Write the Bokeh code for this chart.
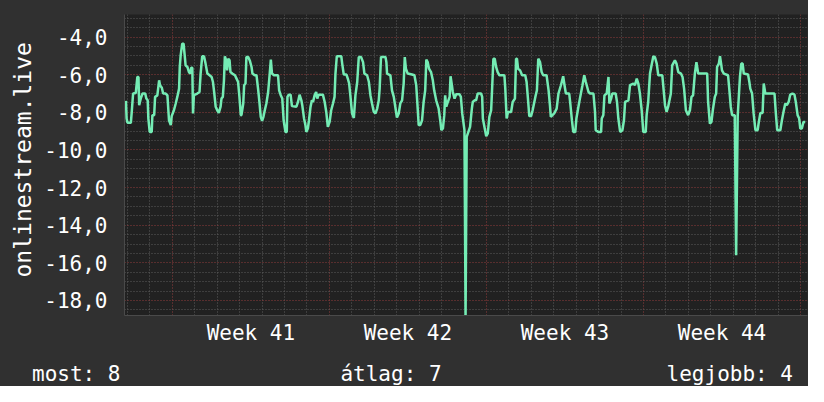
from bokeh.plotting import figure
from bokeh.models import Range1d, FixedTicker, Div, Title
from bokeh.layouts import column
from bokeh.embed import file_html
from bokeh.resources import INLINE

# ---- data (x in days from start of Week 41, y = value) ----
t_a = [-2.07, -2.04, -2.00, -1.85, -1.81, -1.75, -1.63, -1.56, -1.51, -1.48, -1.41, -1.33, -1.21, -1.16, -1.10, -1.07,
       -1.01, -0.92, -0.89, -0.81, -0.77, -0.67, -0.59, -0.55, -0.47, -0.41, -0.30, -0.22, -0.15, -0.07, -0.03, 0.07,
       0.15, 0.22, 0.30, 0.33, 0.37, 0.44, 0.50, 0.55, 0.59, 0.67, 0.74, 0.80, 0.84, 0.89, 0.92, 0.96, 1.11, 1.21, 1.26,
       1.33, 1.41, 1.48, 1.56, 1.66, 1.75, 1.81, 1.87, 1.93, 2.00, 2.07, 2.15, 2.19, 2.25, 2.30, 2.34, 2.40, 2.44, 2.49,
       2.55, 2.59, 2.67, 2.79, 2.86, 2.93, 2.99, 3.05, 3.08]
v_a = [-7.39, -8.33, -8.56, -8.56, -7.98, -7.0, -6.97, -6.12, -6.12, -7.62, -7.27, -7.0, -7.0, -7.27, -7.36, -8.33,
       -9.04, -9.04, -8.15, -8.15, -7.18, -7.1, -6.3, -6.56, -6.69, -7.0, -7.0, -7.1, -8.42, -8.68, -8.2, -7.89,
       -7.53, -7.18, -6.74, -5.59, -4.97, -4.35, -4.35, -4.97, -5.5, -5.59, -5.86, -5.94, -5.63, -5.63, -8.06, -7.09,
       -7.0, -6.92, -5.94, -5.02, -5.02, -5.41, -5.94, -6.03, -6.12, -6.39, -7.0, -7.7, -7.89, -8.03, -7.7, -7.27,
       -7.18, -6.3, -5.02, -5.24, -5.77, -5.15, -5.24, -5.86, -5.94, -6.03, -6.21, -6.39, -7.18, -8.15, -8.15]

t_b = [3.16, 3.20, 3.26, 3.30, 3.38, 3.45, 3.53, 3.57, 3.67, 3.75, 3.82, 3.88, 3.94, 4.00, 4.06, 4.12, 4.19, 4.27,
       4.34, 4.39, 4.44, 4.53, 4.71, 4.76, 4.83, 4.90, 4.96, 5.04, 5.10, 5.13, 5.19, 5.27, 5.33, 5.53, 5.60, 5.67,
       5.75, 5.79, 5.87, 5.93, 5.97, 6.04, 6.09, 6.16, 6.22, 6.27, 6.34, 6.41, 6.46, 6.52, 6.71, 6.79, 6.86, 6.93,
       7.01, 7.08, 7.16, 7.23, 7.27, 7.33, 7.53, 7.57, 7.64, 7.76, 7.82, 7.88, 7.94, 8.01, 8.09]
v_b = [-7.53, -6.56, -6.47, -5.06, -5.06, -5.24, -5.59, -5.94, -6.03, -6.03, -6.74, -7.45, -8.24, -8.45, -8.24, -7.89,
       -7.53, -6.92, -5.94, -5.2, -5.94, -6.03, -6.03, -6.83, -7.09, -7.27, -8.42, -9.04, -9.04, -7.18, -7.06, -7.06,
       -7.67, -7.7, -7.45, -7.06, -7.36, -7.62, -8.33, -8.68, -9.04, -8.86, -8.42, -7.7, -7.36, -7.45, -7.1, -6.92,
       -7.27, -7.06, -7.06, -7.45, -7.98, -8.77, -8.51, -7.89, -7.53, -7.18, -5.94, -5.02, -5.02, -5.41, -5.99, -5.99,
       -6.21, -6.47, -7.18, -8.06, -8.3]

t_c = [8.16, 8.24, 8.31, 8.41, 8.50, 8.56, 8.68, 8.76, 8.83, 8.90, 8.98, 9.05, 9.13, 9.20, 9.24, 9.30, 9.50, 9.54,
       9.57, 9.72, 9.79, 9.87, 9.96, 10.01, 10.09, 10.16, 10.24, 10.31, 10.36, 10.41, 10.49, 10.68, 10.79, 10.87,
       10.93, 10.98, 11.05, 11.13, 11.20, 11.27, 11.32, 11.38, 11.44, 11.53, 11.61, 11.67, 11.76, 11.87, 11.94,
       11.99, 12.06, 12.12, 12.16, 12.21, 12.28, 12.36, 12.40, 12.46, 12.50, 12.58, 12.65, 12.80, 12.86, 12.92,
       13.02, 13.07, 13.12, 13.27, 13.35]
v_c = [-7.1, -6.39, -5.06, -5.06, -5.33, -5.94, -6.03, -6.39, -7.1, -7.53, -7.98, -8.06, -7.8, -7.36, -6.74, -5.06,
       -5.06, -5.33, -5.94, -6.03, -6.83, -7.18, -7.89, -8.28, -8.06, -7.53, -7.36, -6.47, -5.06, -5.68, -5.94, -5.99,
       -6.03, -6.56, -7.7, -8.68, -8.68, -8.42, -7.45, -6.83, -5.2, -5.33, -5.68, -5.86, -6.3, -6.83, -7.36, -7.8,
       -8.42, -8.95, -8.86, -8.15, -7.1, -7.7, -7.45, -7.18, -6.08, -6.56, -6.92, -7.27, -7.04, -7.04, -7.18, -8.06,
       -8.95, -18.8, -9.3, -8.77, -7.8]

t_d = [13.39, 13.47, 13.54, 13.61, 13.76, 13.81, 13.84, 13.91, 13.99, 14.06, 14.13, 14.21, 14.25, 14.31, 14.37,
       14.43, 14.50, 14.58, 14.80, 14.84, 14.90, 14.96, 15.10, 15.17, 15.27, 15.32, 15.36, 15.41, 15.50, 15.59,
       15.73, 15.79, 15.85, 15.91, 15.99, 16.06, 16.18, 16.25, 16.31, 16.39, 16.46, 16.53, 16.68, 16.77, 16.83,
       16.87, 17.02, 17.13, 17.21, 17.32, 17.42, 17.48, 17.54, 17.69, 17.73, 17.81, 17.87, 17.96, 18.01, 18.10,
       18.18, 18.28, 18.36, 18.43]
v_d = [-7.45, -7.36, -7.36, -7.0, -7.0, -7.18, -8.33, -8.77, -9.27, -9.12, -8.24, -7.89, -6.83, -5.15, -5.15, -5.59,
       -5.86, -6.03, -6.03, -6.74, -8.33, -7.98, -7.98, -7.45, -7.27, -5.15, -5.15, -5.68, -5.77, -6.03, -6.03, -6.39,
       -7.27, -8.2, -8.2, -7.89, -7.18, -6.83, -5.15, -5.33, -5.86, -6.03, -6.03, -6.83, -7.62, -8.24, -8.06, -7.8,
       -7.0, -6.56, -6.08, -6.56, -7.0, -7.0, -7.45, -8.42, -9.04, -9.04, -8.33, -7.7, -7.18, -6.56, -6.03, -6.39]

t_e = [18.55, 18.62, 18.77, 18.84, 18.87, 18.99, 19.11, 19.14, 19.21, 19.26, 19.36, 19.44, 19.48, 19.56, 19.61,
       19.76, 19.82, 19.88, 19.96, 20.06, 20.13, 20.18, 20.33, 20.40, 20.55, 20.62, 20.70, 20.77, 20.84, 20.92,
       20.99, 21.10, 21.14, 21.21, 21.29, 21.36, 21.44, 21.51, 21.59, 21.66, 21.84, 21.90, 21.96, 22.03, 22.10,
       22.22, 22.28, 22.40, 22.47, 22.55, 22.67, 22.74, 22.81, 22.89, 22.99, 23.07, 23.14, 23.21, 23.29, 23.36, 23.44]
v_e = [-6.92, -7.0, -7.0, -7.98, -8.95, -9.04, -9.04, -8.33, -8.15, -7.1, -7.0, -6.12, -7.53, -7.27, -7.0, -7.0,
       -7.45, -8.33, -9.04, -8.95, -8.42, -7.45, -7.36, -6.56, -6.47, -6.56, -6.21, -6.47, -7.0, -7.89, -9.04, -9.04,
       -8.15, -7.45, -5.94, -5.5, -5.02, -5.06, -5.41, -6.03, -6.03, -6.83, -7.62, -7.98, -7.7, -7.0, -5.5, -5.24,
       -5.41, -5.86, -5.94, -6.12, -6.74, -7.89, -8.15, -7.89, -7.18, -7.1, -5.94, -5.33, -5.94]

t_f = [23.84, 23.88, 23.96, 24.03, 24.09, 24.18, 24.24, 24.28, 24.36, 24.41, 24.46, 24.50, 24.58, 24.77, 24.83,
       24.89, 24.95, 25.07, 25.13, 25.20, 25.30, 25.36, 25.42, 25.47, 25.66, 25.72, 25.76, 25.84, 25.91, 25.99,
       26.09, 26.13, 26.21, 26.31, 26.36, 26.43, 26.84, 26.90, 26.96, 27.10, 27.17, 27.24, 27.32, 27.39, 27.47,
       27.54, 27.64, 27.73, 27.79, 27.87, 27.94, 27.99, 28.06, 28.13, 28.21]
v_f = [-5.94, -7.45, -8.6, -8.51, -7.89, -7.18, -7.0, -5.59, -5.41, -5.02, -5.41, -5.77, -5.94, -6.03, -6.83, -7.7,
       -8.15, -8.15, -15.6, -8.2, -6.12, -5.41, -5.41, -5.94, -5.99, -6.39, -6.74, -7.0, -8.06, -8.95, -8.95, -8.6,
       -8.03, -8.03, -6.47, -7.0, -7.0, -8.06, -8.95, -8.95, -8.42, -7.98, -7.53, -7.62, -7.45, -7.06, -7.0, -7.06,
       -7.45, -8.15, -8.33, -8.86, -8.86, -8.51, -8.51]

week_starts = [0, 7, 14, 21, 28]
week_mid = [3.5, 10.5, 17.5, 24.5]
week_labels = ["Week 41", "Week 42", "Week 43", "Week 44"]
y_ticks = [-18, -16, -14, -12, -10, -8, -6, -4]
y_tick_labels = ["-18,0", "-16,0", "-14,0", "-12,0", "-10,0", "-8,0", "-6,0", "-4,0"]
y_title = "onlinestream.live"
legend_texts = ["most: 8", "átlag: 7", "legjobb: 4"]

days = t_a + t_b + t_c + t_d + t_e + t_f
vals = v_a + v_b + v_c + v_d + v_e + v_f
assert len(days) == len(vals)

FONT = "DejaVu Sans Mono"
BG = "#303030"
PLOT_BG = "#212121"
LINE = "#74ecb4"
RED = "#903c3c"
GREY = "#5c5c5c"

X0, X1 = -2.1333, 28.311
Y0, Y1 = -18.8, -2.8

p = figure(width=808, height=350, x_range=Range1d(X0, X1), y_range=Range1d(Y0, Y1),
           output_backend="svg", toolbar_location=None,
           min_border_left=124, min_border_right=1, min_border_top=14, min_border_bottom=35,
           background_fill_color=PLOT_BG, border_fill_color=BG, outline_line_color=None)

# y axis
p.yaxis.ticker = FixedTicker(ticks=y_ticks,
                             minor_ticks=[v / 2 for v in range(-37, -5) if v % 4 != 0])
p.yaxis.major_label_overrides = {k: s for k, s in zip(y_ticks, y_tick_labels)}
p.yaxis.major_label_text_font = FONT
p.yaxis.major_label_text_font_size = "21px"
p.yaxis.major_label_text_color = "white"
p.yaxis.major_tick_line_color = None
p.yaxis.minor_tick_line_color = None
p.yaxis.major_tick_out = 0
p.yaxis.major_label_standoff = 13
p.yaxis.axis_line_color = "#4a4a4a"

# y title (outside the axis, placed a little above centre like the reference)
p.add_layout(Title(text=y_title, align="left", offset=38, standoff=8, vertical_align="top",
                   text_font=FONT, text_font_size="23px", text_font_style="normal",
                   text_color="white"), "left")

# x axis
p.xaxis.ticker = FixedTicker(ticks=week_mid)
p.xaxis.major_label_overrides = {k: s for k, s in zip(week_mid, week_labels)}
p.xaxis.major_label_text_font = FONT
p.xaxis.major_label_text_font_size = "21px"
p.xaxis.major_label_text_color = "white"
p.xaxis.major_tick_line_color = None
p.xaxis.minor_tick_line_color = None
p.xaxis.major_tick_out = 0
p.xaxis.major_label_standoff = 5
p.xaxis.axis_line_color = "#4a4a4a"

# grids
p.xgrid.ticker = FixedTicker(ticks=week_starts,
                             minor_ticks=[d for d in range(-2, 29) if d % 7 != 0])
p.xgrid.grid_line_color = RED
p.xgrid.grid_line_dash = "1 2"
p.xgrid.minor_grid_line_color = GREY
p.xgrid.minor_grid_line_dash = "1 2"
p.ygrid.grid_line_color = RED
p.ygrid.grid_line_dash = "1 2"
p.ygrid.minor_grid_line_color = GREY
p.ygrid.minor_grid_line_dash = "1 2"

p.line(days, vals, line_color=LINE, line_width=2.5)

# legend line below the chart
span = "position:absolute;top:12px;white-space:pre;"
html = (
    f'<div style="position:relative;left:0;top:0;width:808px;height:36px;background-color:{BG};'
    "font-family:'DejaVu Sans Mono';font-size:21px;color:white;line-height:24px;\">"
    f'<span style="{span}left:32px;">{legend_texts[0]}</span>'
    f'<span style="{span}left:0px;width:782px;text-align:center;">{legend_texts[1]}</span>'
    f'<span style="{span}right:15px;">{legend_texts[2]}</span>'
    '</div>'
)
div = Div(text=html, width=808, height=36, margin=0,
          styles={"background-color": BG, "margin": "0", "padding": "0"})

layout = column(p, div, spacing=0, styles={"background-color": BG})

open("out.html", "w").write(file_html(layout, INLINE))
